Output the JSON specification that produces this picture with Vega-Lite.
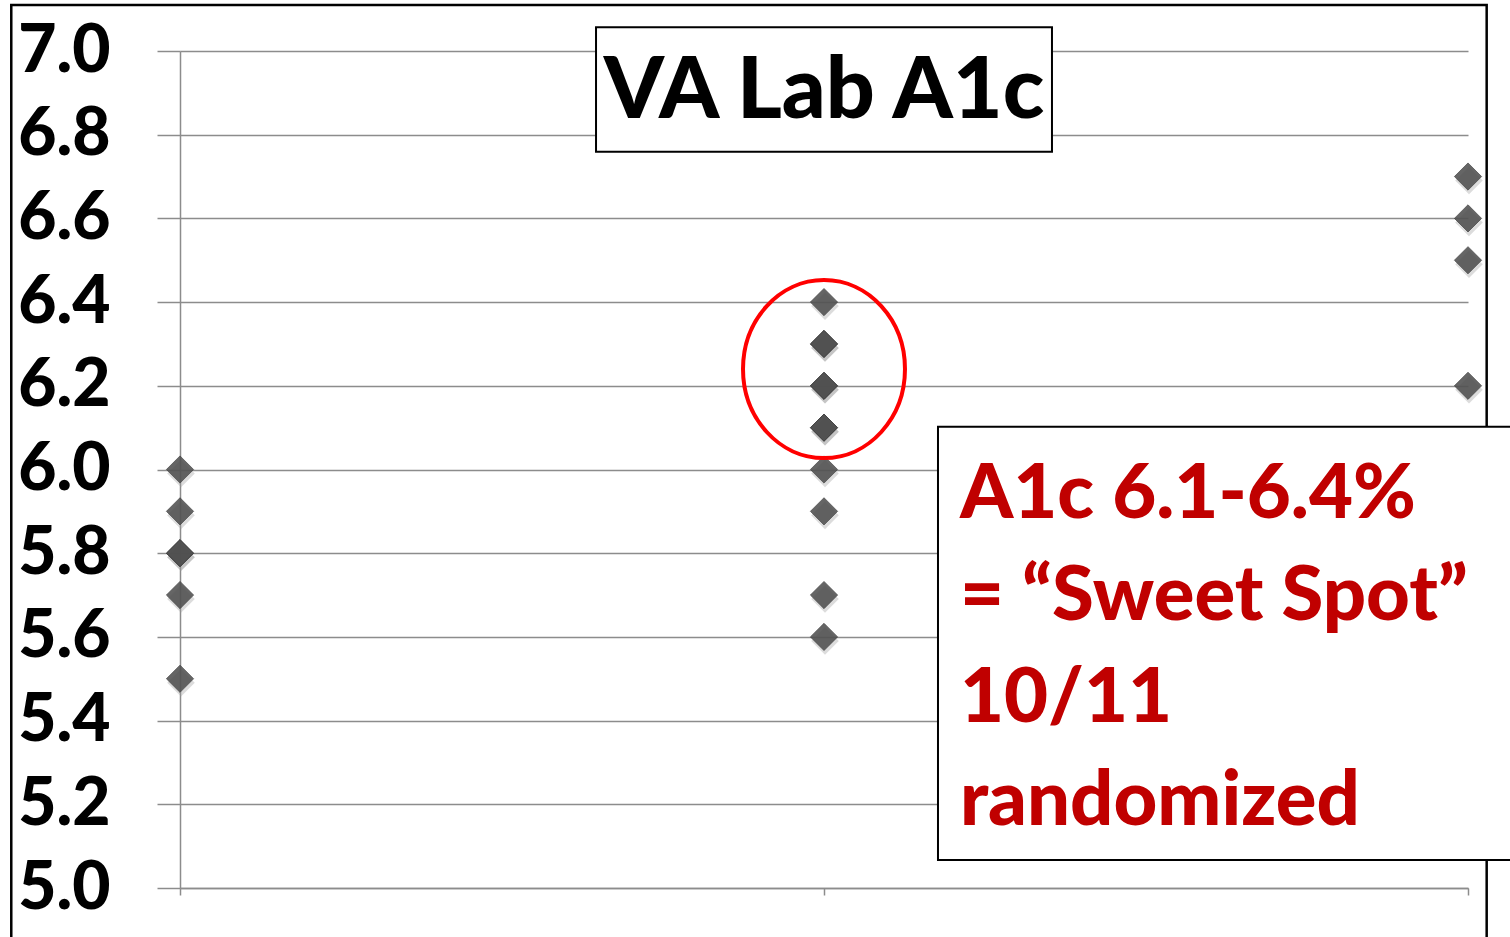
{
  "$schema": "https://vega.github.io/schema/vega-lite/v6.json",
  "autosize": {"type": "none"},
  "width": 1288,
  "height": 837,
  "padding": {"left": 180, "top": 51, "right": 42, "bottom": 49},
  "background": "white",
  "config": {"view": {"stroke": null}},
  "datasets": {
    "points": [
      {"x": 1, "y": 6.0}, {"x": 1, "y": 5.9}, {"x": 1, "y": 5.8}, {"x": 1, "y": 5.8}, {"x": 1, "y": 5.7}, {"x": 1, "y": 5.5},
      {"x": 2, "y": 6.4}, {"x": 2, "y": 6.3}, {"x": 2, "y": 6.3}, {"x": 2, "y": 6.2}, {"x": 2, "y": 6.2}, {"x": 2, "y": 6.1}, {"x": 2, "y": 6.1}, {"x": 2, "y": 6.0}, {"x": 2, "y": 5.9}, {"x": 2, "y": 5.7}, {"x": 2, "y": 5.6},
      {"x": 3, "y": 6.7}, {"x": 3, "y": 6.6}, {"x": 3, "y": 6.5}, {"x": 3, "y": 6.2}
    ],
    "frame": [{"x": 0.738, "x2": 3.029, "y": 7.11, "y2": 4.8}],
    "ellipse": [{"x": 2, "y": 6.24}],
    "titlebox": [{"x": 1.646, "x2": 2.354, "y": 7.057, "y2": 6.759}],
    "titletext": [{"x": 2, "y": 6.902, "label": "VA Lab A1c"}],
    "notebox": [{"x": 2.177, "x2": 3.1, "y": 6.102, "y2": 5.067}],
    "notes": [
      {"x": 2.211, "y": 5.884, "label": "A1c 6.1-6.4%"},
      {"x": 2.211, "y": 5.640, "label": "= “Sweet Spot”"},
      {"x": 2.211, "y": 5.397, "label": "10/11"},
      {"x": 2.211, "y": 5.151, "label": "randomized"}
    ]
  },
  "encoding": {
    "x": {
      "field": "x", "type": "quantitative",
      "scale": {"domain": [1, 3], "nice": false, "zero": false},
      "axis": {"values": [1, 2, 3], "labels": false, "title": null, "grid": false, "tickSize": 7, "tickColor": "#8c8c8c", "tickWidth": 1.5, "domainColor": "#8c8c8c", "domainWidth": 1.5}
    },
    "y": {
      "field": "y", "type": "quantitative",
      "scale": {"domain": [5, 7], "nice": false, "zero": false},
      "axis": {"values": [5, 5.2, 5.4, 5.6, 5.8, 6, 6.2, 6.4, 6.6, 6.8, 7], "format": ".1f", "title": null,
        "grid": true, "gridColor": "#8c8c8c", "gridWidth": 1.5,
        "tickSize": 23, "tickColor": "#8c8c8c", "tickWidth": 1.5,
        "domainColor": "#8c8c8c", "domainWidth": 1.5,
        "labelFont": "Lato", "labelFontSize": 66, "labelFontWeight": 900, "labelColor": "black",
        "labelPadding": 47, "labelBaseline": "middle"}
    }
  },
  "layer": [
    {
      "data": {"name": "frame"},
      "mark": {"type": "rect", "fill": null, "fillOpacity": 0, "stroke": "black", "strokeWidth": 2.5},
      "encoding": {"x2": {"field": "x2"}, "y2": {"field": "y2"}}
    },
    {
      "data": {"name": "points"},
      "mark": {"type": "point", "shape": "diamond", "filled": true, "size": 760, "color": "#9a9a9a", "opacity": 0.35, "yOffset": 4, "xOffset": 1}
    },
    {
      "data": {"name": "points"},
      "mark": {"type": "point", "shape": "diamond", "filled": true, "size": 740, "color": "#505050", "opacity": 0.88, "stroke": "#3a3a3a", "strokeWidth": 0.8}
    },
    {
      "data": {"name": "ellipse"},
      "mark": {"type": "point", "shape": "M -0.91 0 A 0.91 1 0 1 0 0.91 0 A 0.91 1 0 1 0 -0.91 0 Z", "filled": false, "size": 31684, "stroke": "#ff0000", "strokeWidth": 4, "opacity": 1}
    },
    {
      "data": {"name": "titlebox"},
      "mark": {"type": "rect", "fill": "white", "stroke": "black", "strokeWidth": 2},
      "encoding": {"x2": {"field": "x2"}, "y2": {"field": "y2"}}
    },
    {
      "data": {"name": "titletext"},
      "mark": {"type": "text", "font": "Lato", "fontSize": 86, "fontWeight": 900, "color": "black", "align": "center", "baseline": "middle"},
      "encoding": {"text": {"field": "label"}}
    },
    {
      "data": {"name": "notebox"},
      "mark": {"type": "rect", "fill": "white", "stroke": "black", "strokeWidth": 2},
      "encoding": {"x2": {"field": "x2"}, "y2": {"field": "y2"}}
    },
    {
      "data": {"name": "notes"},
      "mark": {"type": "text", "font": "Lato", "fontSize": 76, "fontWeight": 900, "color": "#c00000", "align": "left", "baseline": "alphabetic"},
      "encoding": {"text": {"field": "label"}}
    }
  ]
}
